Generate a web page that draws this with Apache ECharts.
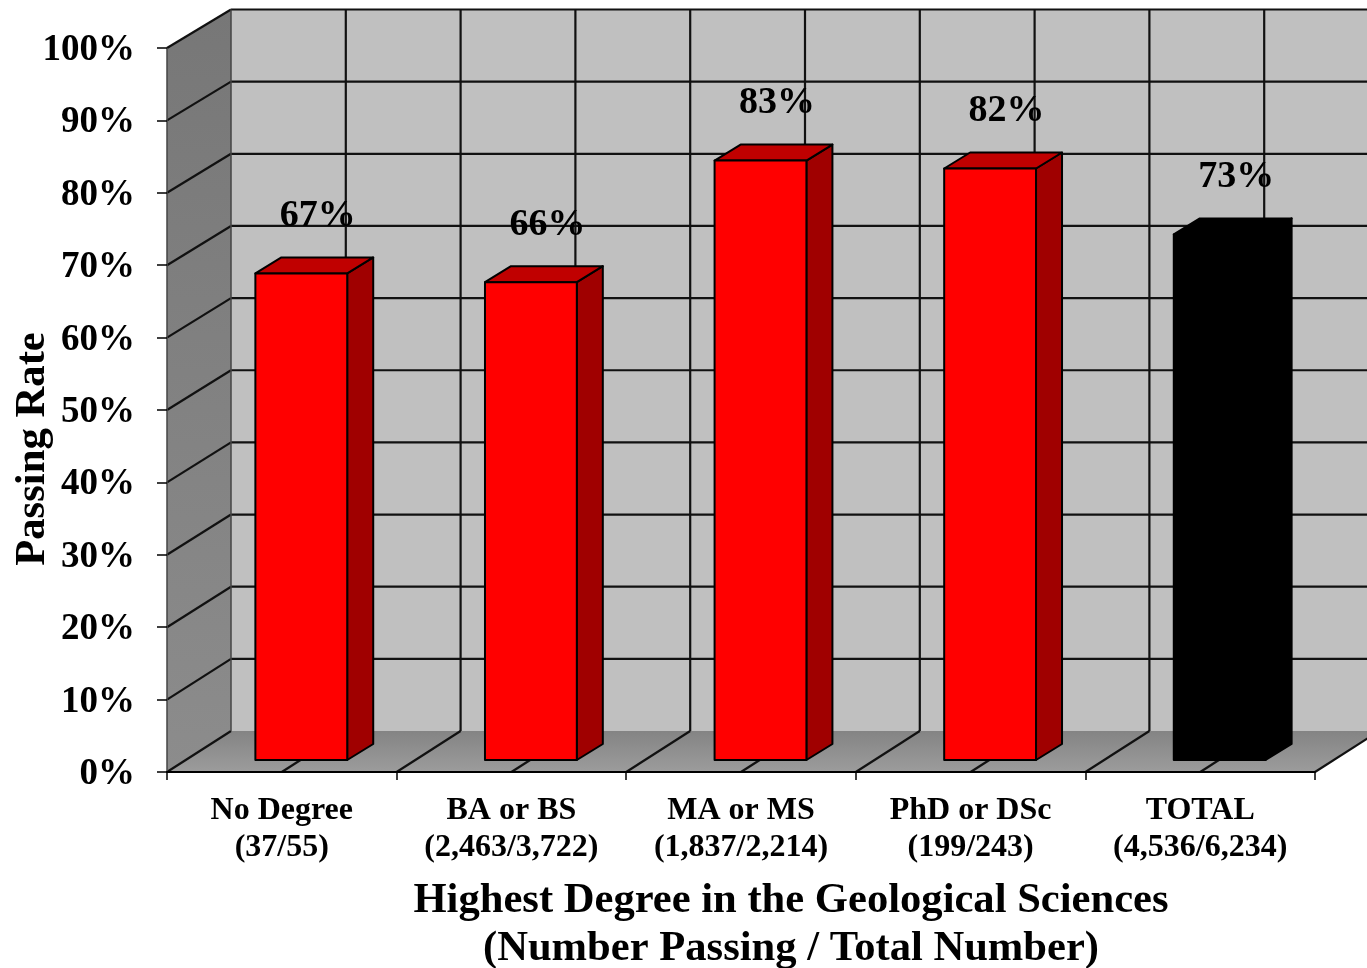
<!DOCTYPE html>
<html>
<head>
<meta charset="utf-8">
<style>html,body{margin:0;padding:0;background:#fff}#c{width:1367px;height:968px}</style>
<script src="https://cdn.jsdelivr.net/npm/echarts@6/dist/echarts.min.js"></script>
</head>
<body>
<div id="c"></div>
<script>
const categories = ['No Degree\n(37/55)', 'BA or BS\n(2,463/3,722)', 'MA or MS\n(1,837/2,214)', 'PhD or DSc\n(199/243)', 'TOTAL\n(4,536/6,234)'];
const passingRate = [67.2, 66, 82.8, 81.7, 72.6];
const rateLabels = ['67%', '66%', '83%', '82%', '73%'];
const frontColors = ['#ff0000', '#ff0000', '#ff0000', '#ff0000', '#000000'];
const topColors = ['#c00000', '#c00000', '#c00000', '#c00000', '#000000'];
const sideColors = ['#a00000', '#a00000', '#a00000', '#a00000', '#000000'];
const yTicks = [10, 20, 30, 40, 50, 60, 70, 80, 90, 100];
const wallDivisions = [0, 0.5, 1, 1.5, 2, 2.5, 3, 3.5, 4, 4.5, 5];

const FONT = '"Liberation Serif","Times New Roman",serif';
const WALL_X = 64;              // projection of the chart's depth
const wallY = v => -41 + 0.025 * v;
const BASE = [19.5, -12];       // bar foot inside the floor
const BAR_D = [26, -16];        // bar depth
const LINE = '#111';

function renderWalls(params, api) {
  const bw = api.size([1, 0])[0];
  const ex = d => api.coord([0, 0])[0] - bw / 2 + d * bw;
  const y = v => api.coord([0, v])[1];
  const back = v => y(v) + wallY(v);
  const x0 = ex(0), x1 = ex(5), y0 = y(0), y100 = y(100);
  const poly = (points, fill) => ({ type: 'polygon', shape: { points }, style: fill });
  const seg = (a, b, w, c) => ({ type: 'line', shape: { x1: a[0], y1: a[1], x2: b[0], y2: b[1] }, style: { stroke: c || LINE, lineWidth: w || 2.2 } });
  const children = [
    poly([[x0 + WALL_X, back(100)], [x1 + WALL_X, back(100)], [x1 + WALL_X, back(0)], [x0 + WALL_X, back(0)]], { fill: '#c0c0c0' }),
    poly([[x0, y100], [x0 + WALL_X, back(100)], [x0 + WALL_X, back(0)], [x0, y0]], { fill: new echarts.graphic.LinearGradient(0, 0, 0, 1, [{ offset: 0, color: '#777777' }, { offset: 1, color: '#8c8c8c' }]) }),
    poly([[x0, y0], [x0 + WALL_X, back(0)], [x1 + WALL_X, back(0)], [x1, y0]], { fill: new echarts.graphic.LinearGradient(0, 0, 0, 1, [{ offset: 0, color: '#848484' }, { offset: 1, color: '#9c9c9c' }]) })
  ];
  yTicks.forEach(v => {
    const p = [x0, y(v)], q = [x0 + WALL_X, back(v)], r = [x1 + WALL_X, back(v)];
    children.push(seg(p, q), seg(q, r));
  });
  wallDivisions.forEach(d => {
    const bottom = [ex(d) + WALL_X, back(0)], top = [ex(d) + WALL_X, back(100)];
    if (d > 0) children.push(seg(bottom, top));
    children.push(seg([ex(d), y0], bottom));
  });
  children.push(seg([x0 + WALL_X, back(0)], [x0 + WALL_X, back(100)], 1.5, '#444'));
  children.push(seg([x0, y0], [x0, y100], 1.5, '#444'));
  return { type: 'group', children };
}

function renderBars(params, api) {
  const i = api.value(0), v = api.value(1);
  const w = api.size([1, 0])[0] * 0.4;
  const foot = api.coord([i, 0]), head = api.coord([i, v]);
  const l = foot[0] + BASE[0] - w / 2, r = l + w;
  const b = foot[1] + BASE[1], t = head[1] + BASE[1];
  const dx = BAR_D[0], dy = BAR_D[1];
  const st = c => ({ fill: c, stroke: '#000', lineWidth: 2, lineJoin: 'round' });
  return {
    type: 'group',
    children: [
      { type: 'polygon', shape: { points: [[r, t], [r + dx, t + dy], [r + dx, b + dy], [r, b]] }, style: st(sideColors[i]) },
      { type: 'polygon', shape: { points: [[l, t], [l + dx, t + dy], [r + dx, t + dy], [r, t]] }, style: st(topColors[i]) },
      { type: 'rect', shape: { x: l, y: t, width: w, height: b - t }, style: st(frontColors[i]) }
    ]
  };
}

function renderLabels(params, api) {
  const i = api.value(0), v = api.value(1);
  const head = api.coord([i, v]);
  return {
    type: 'text',
    x: head[0] + BASE[0] + 16.5,
    y: head[1] + BASE[1] - 57,
    style: { text: rateLabels[i], fill: '#000', font: 'bold 38px ' + FONT, textAlign: 'center', textVerticalAlign: 'middle' }
  };
}

const chart = echarts.init(document.getElementById('c'), null, { renderer: 'canvas' });
chart.setOption({
  animation: false,
  backgroundColor: '#ffffff',
  grid: { left: 167, right: 52, top: 48, bottom: 196, containLabel: false, outerBoundsMode: 'none' },
  xAxis: {
    type: 'category',
    data: categories,
    z: 10,
    axisLine: { show: true, lineStyle: { color: '#000', width: 2 } },
    axisTick: { show: true, length: 8, lineStyle: { color: '#000', width: 1.5 } },
    axisLabel: { color: '#000', fontFamily: FONT, fontWeight: 'bold', fontSize: 32, lineHeight: 37, margin: 20, interval: 0 },
    name: 'Highest Degree in the Geological Sciences\n(Number Passing / Total Number)',
    nameLocation: 'middle',
    nameGap: 105,
    nameMoveOverlap: false,
    nameTextStyle: { color: '#000', fontFamily: FONT, fontWeight: 'bold', fontSize: 42.6, lineHeight: 48, padding: [0, 0, 0, 100] }
  },
  yAxis: {
    type: 'value',
    min: 0,
    max: 100,
    interval: 10,
    z: 10,
    splitLine: { show: false },
    axisLine: { show: false },
    axisTick: { show: true, length: 10, lineStyle: { color: '#000', width: 1.5 } },
    axisLabel: { color: '#000', fontFamily: FONT, fontWeight: 'bold', fontSize: 37, margin: 32, verticalAlign: 'top', lineHeight: 5, formatter: '{value}%' },
    name: 'Passing Rate',
    nameLocation: 'middle',
    nameRotate: 90,
    nameGap: 113,
    nameMoveOverlap: false,
    nameTextStyle: { color: '#000', fontFamily: FONT, fontWeight: 'bold', fontSize: 42.7, padding: [0, 78, 0, 0] }
  },
  series: [
    { type: 'custom', name: 'walls', silent: true, z: 1, clip: false, renderItem: renderWalls, data: [[0, 0]] },
    { type: 'custom', name: 'Passing Rate', z: 2, clip: false, renderItem: renderBars, data: passingRate.map((v, i) => [i, v]) },
    { type: 'custom', name: 'labels', silent: true, z: 3, clip: false, renderItem: renderLabels, data: passingRate.map((v, i) => [i, v]) }
  ]
});
</script>
</body>
</html>
